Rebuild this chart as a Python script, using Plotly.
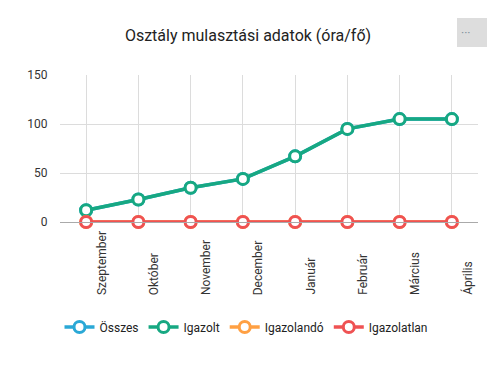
import plotly.graph_objects as go

months = ["Szeptember", "Október", "November", "December", "Január", "Február", "Március", "Április"]
osszes = [12, 23, 35, 44, 67, 95, 105, 105]
igazolt = [12, 23, 35, 44, 67, 95, 105, 105]
igazolando = [0, 0, 0, 0, 0, 0, 0, 0]
igazolatlan = [0, 0, 0, 0, 0, 0, 0, 0]
y_ticks = [0, 50, 100, 150]

series = [
    ("Összes", osszes, "#2aa8d6"),
    ("Igazolt", igazolt, "#17a882"),
    ("Igazolandó", igazolando, "#ffa043"),
    ("Igazolatlan", igazolatlan, "#ef5253"),
]

OFF = 8  # page body margin
W, H = 502 - OFF, 371 - OFF

fig = go.Figure()
for name, vals, col in series:
    fig.add_trace(go.Scatter(
        x=months, y=vals, name=name, mode="lines+markers",
        line=dict(color=col, width=3.5),
        marker=dict(symbol="circle", size=11, color="white", line=dict(color=col, width=3)),
        cliponaxis=False,
    ))

for m in months:
    fig.add_annotation(
        x=m, xref="x", y=-0.51, yref="paper", text=m, textangle=-90,
        showarrow=False, yanchor="bottom", xanchor="center", xshift=16,
        font=dict(family="Roboto", size=12, color="#333"),
    )

# menu button
fig.add_shape(type="rect", xref="paper", yref="paper",
              x0=(457 - 60) / 418, x1=(487 - 60) / 418,
              y0=(222 - 47) / 147, y1=(222 - 18) / 147,
              fillcolor="#dddddd", line=dict(width=0), layer="above")
fig.add_annotation(x=(472 - 60) / 418, y=(222 - 32) / 147, xref="paper", yref="paper",
                   yanchor="middle", yshift=-1,
                   text="···", showarrow=False, font=dict(family="Roboto", size=12, color="#7f909b"))

fig.update_layout(
    width=W, height=H,
    margin=dict(l=60 - OFF, r=24, t=75 - OFF, b=H - (75 - OFF) - 147),
    paper_bgcolor="white", plot_bgcolor="white",
    font=dict(family="Roboto", size=12, color="#333"),
    title=dict(text="Osztály mulasztási adatok (óra/fő)", x=(248 - OFF) / W, xanchor="center",
               y=1 - (35 - OFF) / H, yanchor="middle", font=dict(family="Roboto", size=16, color="#222")),
    xaxis=dict(type="category", range=[-0.5, 7.5], showgrid=True, gridcolor="#dcdcdc",
               showticklabels=False, showline=True, linecolor="#aaaaaa", linewidth=1,
               zeroline=False, fixedrange=True),
    yaxis=dict(range=[0, 150], tickvals=y_ticks, showgrid=True, gridcolor="#dcdcdc",
               zeroline=False, showline=False, ticks="outside", ticklen=9,
               tickcolor="rgba(0,0,0,0)", tickfont=dict(size=12, color="#333")),
    legend=dict(orientation="h", xref="container", x=(246 - OFF) / W, xanchor="center",
                yref="container", y=1 - (327 - OFF) / H, yanchor="middle",
                font=dict(family="Roboto", size=12, color="#222")),
)

fig.write_html("out.html")
